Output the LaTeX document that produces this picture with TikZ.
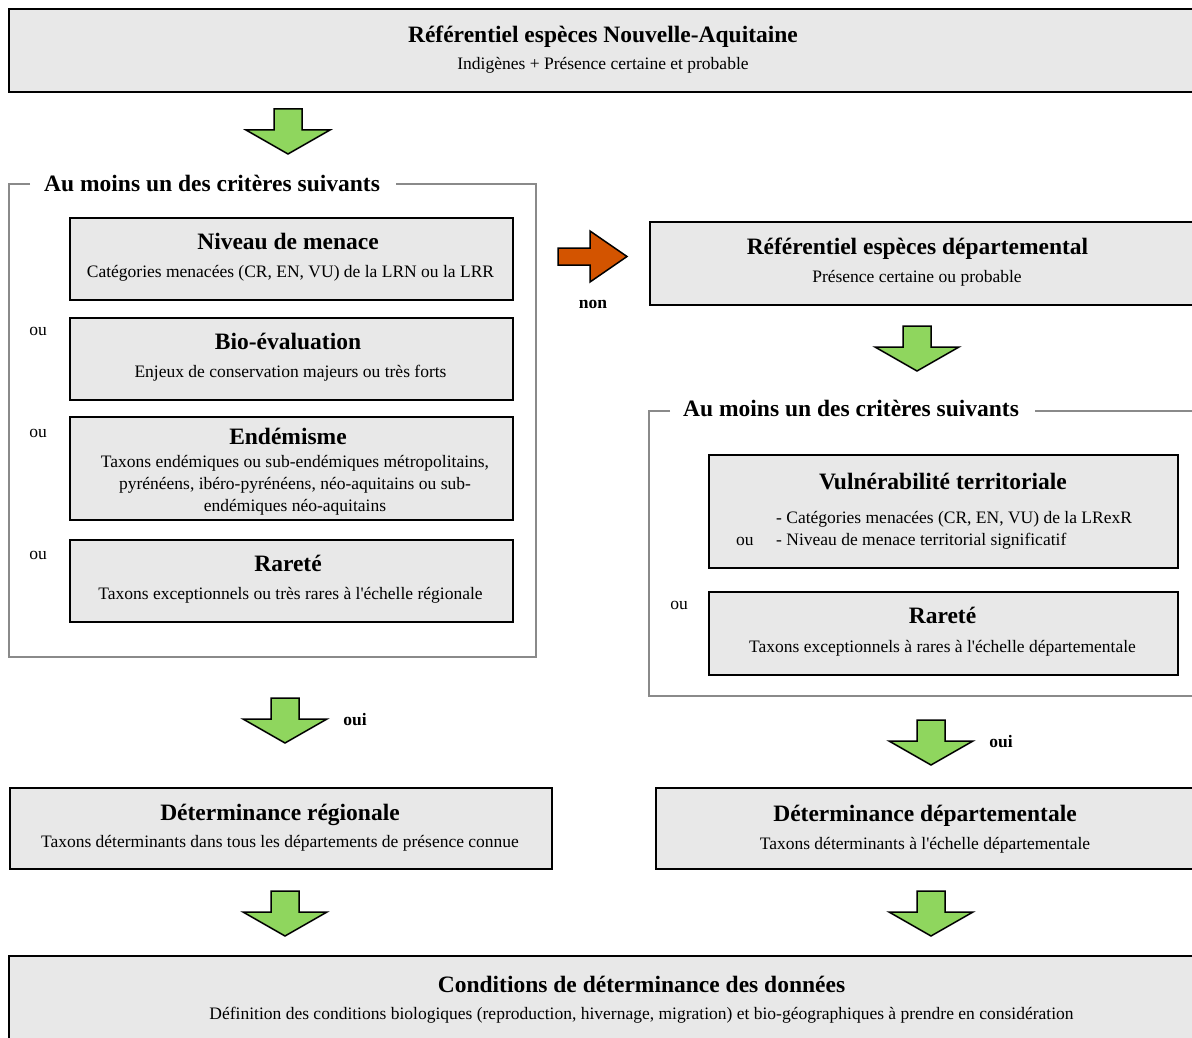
\documentclass[tikz,border=0pt]{standalone}
\usepackage{fontspec}
\setmainfont{Liberation Serif}
\usetikzlibrary{calc}
\definecolor{boxgray}{HTML}{E8E8E8}
\definecolor{agreen}{HTML}{8FD65E}
\definecolor{aorange}{HTML}{D35400}
\definecolor{framegray}{HTML}{8A8A8A}
\tikzset{
  box/.style={draw=black, line width=2pt, fill=boxgray, rectangle, inner sep=0pt, anchor=north west},
  ttl/.style={font=\fontsize{23.5}{27}\selectfont\bfseries, inner sep=0pt, anchor=base},
  subt/.style={font=\fontsize{17.5}{22}\selectfont, inner sep=0pt, anchor=base},
  lbl/.style={font=\fontsize{17.5}{22}\selectfont, inner sep=0pt, anchor=base},
  blbl/.style={font=\fontsize{17.5}{22}\selectfont\bfseries, inner sep=0pt, anchor=base},
  grp/.style={font=\fontsize{23.5}{27}\selectfont\bfseries, inner sep=0pt, anchor=base west},
  frameline/.style={draw=framegray, line width=1.3pt},
  garrowst/.style={draw=black, line width=1.5pt, fill=agreen, line join=miter},
  oarrowst/.style={draw=black, line width=1.5pt, fill=aorange, line join=miter},
  pics/garrow/.style={code={
    \draw[garrowst] (-14,0) -- (14,0) -- (14,21) -- (42,21) -- (0,45) -- (-42,21) -- (-14,21) -- cycle;}},
  pics/oarrow/.style={code={
    \draw[oarrowst] (0,-8.5) -- (32,-8.5) -- (32,-25.5) -- (69,0) -- (32,25.5) -- (32,8.5) -- (0,8.5) -- cycle;}},
}
\newcommand\mkbox[5]{\node[box, minimum width=#4pt, minimum height=#5pt] (#1) at (#2,#3) {};}
\begin{document}
\begin{tikzpicture}[x=1pt,y=-1pt]
\useasboundingbox (0,0) rectangle (1192,1038);
\clip (0,0) rectangle (1192,1038);

% top box
\mkbox{top}{8}{8}{1190}{83}
\node[ttl] (topT) at (603,43) {Référentiel espèces Nouvelle-Aquitaine};
\node[subt] (topS) at (603,70) {Indigènes + Présence certaine et probable};

\pic at (288,109) {garrow};

% left group frame
\draw[frameline] (30,184) -- (9,184) -- (9,657) -- (536,657) -- (536,184) -- (396,184);
\node[grp] (lgrp) at (44,191) {Au moins un des critères suivants};

\mkbox{menace}{69}{217}{443}{82}
\node[ttl] (menaceT) at (288,249) {Niveau de menace};
\node[subt] (menaceS) at (290.5,277) {Catégories menacées (CR, EN, VU) de la LRN ou la LRR};

\node[lbl] (ou1) at (38,335) {ou};
\mkbox{bio}{69}{317}{443}{82}
\node[ttl] (bioT) at (288,349) {Bio-évaluation};
\node[subt] (bioS) at (290.5,377) {Enjeux de conservation majeurs ou très forts};

\node[lbl] (ou2) at (38,437) {ou};
\mkbox{endem}{69}{416}{443}{103}
\node[ttl] (endemT) at (288,444) {Endémisme};
\node[subt] (endemS1) at (295,467) {Taxons endémiques ou sub-endémiques métropolitains,};
\node[subt] (endemS2) at (295,489) {pyrénéens, ibéro-pyrénéens, néo-aquitains ou sub-};
\node[subt] (endemS3) at (295,511) {endémiques néo-aquitains};

\node[lbl] (ou3) at (38,559) {ou};
\mkbox{rare}{69}{539}{443}{82}
\node[ttl] (rareT) at (288,571) {Rareté};
\node[subt] (rareS) at (290.5,599) {Taxons exceptionnels ou très rares à l\textquotesingle échelle régionale};

% orange arrow
\pic at (558,256.5) {oarrow};
\node[blbl] (non) at (593,308) {non};

% departmental box
\mkbox{dep}{649}{221}{551}{83}
\node[ttl] (depT) at (917.5,254) {Référentiel espèces départemental};
\node[subt] (depS) at (917,282) {Présence certaine ou probable};

\pic at (917,326) {garrow};

% right group frame
\draw[frameline] (670,411) -- (649,411) -- (649,696) -- (1200,696);
\draw[frameline] (1035,411) -- (1200,411);
\node[grp] (rgrp) at (683,416) {Au moins un des critères suivants};

\mkbox{vuln}{708}{454}{469}{113}
\node[ttl] (vulnT) at (943,489) {Vulnérabilité territoriale};
\node[subt, anchor=base west] (vulnS1) at (776,523) {- Catégories menacées (CR, EN, VU) de la LRexR};
\node[subt, anchor=base west] (vulnS2) at (776,545) {- Niveau de menace territorial significatif};
\node[lbl, anchor=base west] (ou5) at (736,545) {ou};

\node[lbl] (ou4) at (679,609) {ou};
\mkbox{rare2}{708}{591}{469}{83}
\node[ttl] (rare2T) at (942.5,623) {Rareté};
\node[subt] (rare2S) at (942.5,652) {Taxons exceptionnels à rares à l\textquotesingle échelle départementale};

% oui arrows
\pic at (285,698) {garrow};
\node[blbl] (oui1) at (355,725) {oui};
\pic at (931,720) {garrow};
\node[blbl] (oui2) at (1001,747) {oui};

% determinance boxes
\mkbox{detreg}{9}{787}{542}{81}
\node[ttl] (detregT) at (280,820) {Déterminance régionale};
\node[subt] (detregS) at (280,847) {Taxons déterminants dans tous les départements de présence connue};

\mkbox{detdep}{655}{787}{545}{81}
\node[ttl] (detdepT) at (925,821) {Déterminance départementale};
\node[subt] (detdepS) at (925,849) {Taxons déterminants à l\textquotesingle échelle départementale};

\pic at (285,891) {garrow};
\pic at (931,891) {garrow};

% bottom box
\mkbox{cond}{8}{955}{1192}{95}
\node[ttl] (condT) at (641.5,992) {Conditions de déterminance des données};
\node[subt] (condS) at (641.5,1019) {Définition des conditions biologiques (reproduction, hivernage, migration) et bio-géographiques à prendre en considération};
\end{tikzpicture}
\end{document}
